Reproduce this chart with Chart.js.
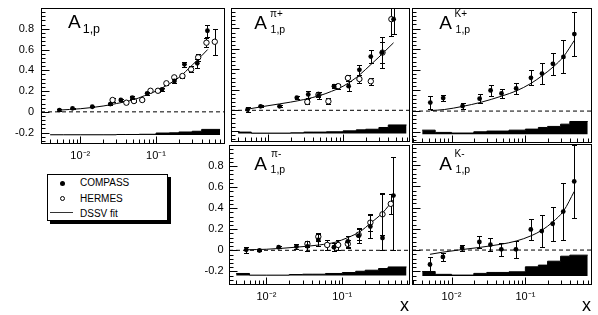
<!DOCTYPE html>
<html><head><meta charset="utf-8">
<script src="https://cdn.jsdelivr.net/npm/chart.js@4.4.1/dist/chart.umd.min.js"></script>
<style>
html,body{margin:0;padding:0;background:#fff;overflow:hidden;width:598px;height:315px;position:relative;font-family:"Liberation Sans",Arial,Helvetica,sans-serif;}
canvas{position:absolute;}
.lbl{position:absolute;line-height:1;white-space:nowrap;color:#000;}
#legend{position:absolute;left:47px;top:174px;width:121px;height:47px;box-sizing:border-box;border:1px solid #000;background:#fff;box-shadow:3px 3px 0 #000;}
#legend .t{position:absolute;font-size:10px;line-height:10px;left:32px;white-space:nowrap;}
#legend .dot{position:absolute;width:5px;height:5px;border-radius:50%;box-sizing:border-box;}
</style></head><body>
<div id="legend">
  <div class="dot" style="left:11.5px;top:5.5px;background:#000;"></div>
  <div class="t" style="top:3px;">COMPASS</div>
  <div class="dot" style="left:11.5px;top:21px;border:1px solid #000;background:#fff;"></div>
  <div class="t" style="top:18.5px;">HERMES</div>
  <div style="position:absolute;left:2px;top:37px;width:23px;height:1px;background:#333;"></div>
  <div class="t" style="top:33.5px;">DSSV fit</div>
</div>
<script>
// ---------------- DATA ----------------
const sysBinEdges = [0.004, 0.006, 0.01, 0.02, 0.03, 0.04, 0.06, 0.1, 0.15, 0.2, 0.3, 0.4, 0.7];
const xMajorTicks = [0.01, 0.1];
const xTickLabels = ['10\u207B\u00B2', '10\u207B\u00B9'];
const yMajorTicks = [-0.2, 0, 0.2, 0.4, 0.6, 0.8];
const yTickLabels = ['-0.2', '0', '0.2', '0.4', '0.6', '0.8'];
const yMinorStep = 0.04;

// A1,p
const a1pCompassX = [0.0053, 0.0079, 0.0144, 0.0249, 0.0343, 0.0486, 0.0764, 0.120, 0.175, 0.237, 0.350, 0.477];
const a1pCompassY = [0.017, 0.034, 0.049, 0.075, 0.114, 0.136, 0.178, 0.217, 0.297, 0.458, 0.467, 0.781];
const a1pCompassErr = [0.006, 0.006, 0.007, 0.01, 0.012, 0.012, 0.012, 0.014, 0.02, 0.025, 0.04, 0.056];
const a1pHermesX = [0.0267, 0.0406, 0.0511, 0.0657, 0.0845, 0.106, 0.137, 0.174, 0.223, 0.29, 0.36, 0.463, 0.596];
const a1pHermesY = [0.114, 0.088, 0.104, 0.114, 0.203, 0.203, 0.275, 0.332, 0.345, 0.409, 0.525, 0.666, 0.675];
const a1pHermesErr = [0.022, 0.012, 0.012, 0.012, 0.012, 0.013, 0.015, 0.018, 0.02, 0.03, 0.035, 0.045, 0.125];
const a1pFitX = [0.0052, 0.01, 0.02, 0.03, 0.05, 0.07, 0.1, 0.15, 0.2, 0.3, 0.4, 0.48];
const a1pFitY = [0.017, 0.03, 0.056, 0.08, 0.115, 0.155, 0.2, 0.27, 0.33, 0.45, 0.54, 0.6];
const a1pSys = [0.003, 0.003, 0.003, 0.003, 0.006, 0.006, 0.008, 0.02, 0.022, 0.03, 0.037, 0.055];
const a1pSysBase = -0.224;

// A1,p pi+
const pipCompassX = [0.00536, 0.00798, 0.01425, 0.0242, 0.0344, 0.0472, 0.0757, 0.1186, 0.165, 0.234, 0.332, 0.471];
const pipCompassY = [0.008, 0.039, 0.039, 0.123, 0.155, 0.145, 0.236, 0.236, 0.396, 0.525, 0.564, 0.891];
const pipCompassErr = [0.029, 0.01, 0.01, 0.015, 0.033, 0.03, 0.02, 0.05, 0.05, 0.065, 0.15, 0.15];
const pipHermesX = [0.0334, 0.047, 0.0638, 0.0861, 0.116, 0.165, 0.234, 0.335, 0.44];
const pipHermesY = [0.082, 0.152, 0.088, 0.236, 0.316, 0.306, 0.284, 0.564, 0.891];
const pipHermesErr = [0.025, 0.025, 0.03, 0.025, 0.03, 0.035, 0.035, 0.1, 0.16];
const pipFitX = [0.0054, 0.01, 0.02, 0.03, 0.05, 0.07, 0.1, 0.15, 0.2, 0.3, 0.47];
const pipFitY = [0.012, 0.045, 0.08, 0.105, 0.146, 0.185, 0.235, 0.32, 0.4, 0.52, 0.66];
const pipSys = [0.013, 0.003, 0.003, 0.006, 0.013, 0.013, 0.016, 0.025, 0.035, 0.041, 0.058, 0.083];
const pipSysBase = -0.226;

// A1,p K+
const kpCompassX = [0.00515, 0.0077, 0.0141, 0.024, 0.0338, 0.0475, 0.075, 0.119, 0.168, 0.236, 0.328, 0.461];
const kpCompassY = [0.082, 0.126, 0.049, 0.12, 0.2, 0.171, 0.22, 0.323, 0.364, 0.458, 0.525, 0.747];
const kpCompassErr = [0.063, 0.032, 0.025, 0.043, 0.052, 0.046, 0.056, 0.073, 0.1, 0.108, 0.16, 0.213];
const kpFitX = [0.0052, 0.008, 0.014, 0.025, 0.035, 0.05, 0.075, 0.12, 0.17, 0.24, 0.33, 0.46];
const kpFitY = [0.005, 0.015, 0.045, 0.085, 0.115, 0.15, 0.195, 0.27, 0.345, 0.43, 0.53, 0.685];
const kpSys = [0.041, 0.019, 0.013, 0.025, 0.032, 0.032, 0.041, 0.051, 0.067, 0.077, 0.099, 0.125];
const kpSysBase = -0.226;

// A1,p pi-
const pimCompassX = [0.00543, 0.0081, 0.0145, 0.0249, 0.0347, 0.0483, 0.0775, 0.118, 0.164, 0.234, 0.338, 0.471];
const pimCompassY = [0.005, -0.002, 0.029, 0.036, 0.038, 0.098, 0.029, 0.085, 0.139, 0.226, 0.117, 0.52];
const pimCompassErr = [0.028, 0.008, 0.01, 0.027, 0.047, 0.055, 0.036, 0.05, 0.072, 0.105, [0.117, 0.42], [0.52, 0.37]];
const pimHermesX = [0.0347, 0.0483, 0.0632, 0.0881, 0.118, 0.164, 0.234, 0.338, 0.4346];
const pimHermesY = [0.061, 0.129, 0.051, 0.051, 0.061, 0.148, 0.263, 0.342, 0.441];
const pimHermesErr = [0.03, 0.04, 0.045, 0.047, 0.04, 0.05, 0.08, 0.2, 0.095];
const pimFitX = [0.0054, 0.01, 0.025, 0.05, 0.08, 0.12, 0.17, 0.24, 0.34, 0.47];
const pimFitY = [0.005, 0.01, 0.03, 0.051, 0.076, 0.123, 0.176, 0.263, 0.357, 0.48];
const pimSys = [0.019, 0.003, 0.003, 0.009, 0.012, 0.012, 0.019, 0.028, 0.04, 0.05, 0.066, 0.081];
const pimSysBase = -0.239;

// A1,p K-
const kmCompassX = [0.0051, 0.00763, 0.0139, 0.0238, 0.0336, 0.0472, 0.0745, 0.1185, 0.1667, 0.2345, 0.326, 0.459];
const kmCompassY = [-0.136, -0.065, 0.02, 0.076, 0.051, 0.007, 0.007, 0.195, 0.179, 0.248, 0.363, 0.647];
const kmCompassErr = [0.075, 0.039, 0.031, 0.053, 0.064, 0.062, 0.078, 0.101, 0.151, 0.159, 0.265, 0.34];
const kmFitX = [0.0051, 0.0076, 0.014, 0.024, 0.034, 0.047, 0.075, 0.12, 0.17, 0.235, 0.33, 0.46];
const kmFitY = [-0.04, -0.02, 0.005, 0.025, 0.04, 0.055, 0.085, 0.135, 0.19, 0.265, 0.37, 0.553];
const kmSys = [0.043, 0.016, 0.009, 0.025, 0.034, 0.034, 0.04, 0.087, 0.103, 0.14, 0.187, 0.197];
const kmSysBase = -0.245;

// ---------------- HELPERS ----------------
const FONT = '"Liberation Sans", Arial, Helvetica, sans-serif';
const pts = (xs, ys) => xs.map((x, i) => ({x: x, y: ys[i]}));
const isMajorX = v => Math.abs(Math.log10(v) - Math.round(Math.log10(v))) < 1e-6;
const isMajorY = v => Math.abs(v / 0.2 - Math.round(v / 0.2)) < 1e-6;

function xTickValues(min, max) {
  const out = [];
  for (let d = -4; d <= 0; d++) for (let m = 1; m <= 9; m++) {
    const v = +(m * Math.pow(10, d)).toPrecision(6);
    if (v >= min && v <= max) out.push(v);
  }
  return out;
}
function yTickValues(min, max) {
  const out = [];
  for (let k = Math.ceil(min / yMinorStep - 1e-9); k * yMinorStep <= max + 1e-9; k++) out.push(+(k * yMinorStep).toFixed(4));
  return out;
}

const errorBarPlugin = {
  id: 'errbars',
  beforeDatasetDraw(chart, args) {
    const ds = chart.data.datasets[args.index];
    if (!ds.errors) return;
    const ctx = chart.ctx, ys = chart.scales.y, a = chart.chartArea, CAP = 2.5;
    ctx.save();
    ctx.beginPath(); ctx.rect(a.left, a.top, a.right - a.left, a.bottom - a.top); ctx.clip();
    ctx.strokeStyle = '#000'; ctx.lineWidth = 1;
    ds.data.forEach((p, i) => {
      const e = ds.errors[i];
      const lo = Array.isArray(e) ? e[0] : e, hi = Array.isArray(e) ? e[1] : e;
      const px = Math.round(args.meta.data[i].x) + 0.5;
      const y1 = Math.round(ys.getPixelForValue(p.y + hi)) + 0.5;
      const y2 = Math.round(ys.getPixelForValue(p.y - lo)) + 0.5;
      ctx.beginPath();
      ctx.moveTo(px, y1); ctx.lineTo(px, y2);
      ctx.moveTo(px - CAP, y1); ctx.lineTo(px + CAP, y1);
      ctx.moveTo(px - CAP, y2); ctx.lineTo(px + CAP, y2);
      ctx.stroke();
    });
    ctx.restore();
  }
};

const framePlugin = {
  id: 'rootFrame',
  afterDatasetsDraw(chart) {
    const ctx = chart.ctx, a = chart.chartArea, xs = chart.scales.x, ys = chart.scales.y;
    const L = Math.round(a.left) + 0.5, R = Math.round(a.right) + 0.5, T = Math.round(a.top) + 0.5, B = Math.round(a.bottom) + 0.5;
    ctx.save();
    ctx.strokeStyle = '#000'; ctx.lineWidth = 1;
    ctx.beginPath();
    xs.ticks.forEach(t => {
      const px = Math.round(xs.getPixelForValue(t.value)) + 0.5;
      const len = isMajorX(t.value) ? 7 : 4;
      ctx.moveTo(px, B); ctx.lineTo(px, B - len);
    });
    ys.ticks.forEach(t => {
      const py = Math.round(ys.getPixelForValue(t.value)) + 0.5;
      const len = isMajorY(t.value) ? 8 : 4;
      ctx.moveTo(L, py); ctx.lineTo(L + len, py);
    });
    ctx.stroke();
    ctx.strokeRect(L, T, R - L, B - T);
    ctx.restore();
  }
};

function compassSet(xs, ys, errs) {
  return {type: 'scatter', data: pts(xs, ys), errors: errs, pointStyle: 'circle', pointRadius: 2.4,
    pointBackgroundColor: '#000', pointBorderColor: '#000', pointBorderWidth: 0, showLine: false};
}
function hermesSet(xs, ys, errs) {
  return {type: 'scatter', data: pts(xs, ys), errors: errs, pointStyle: 'circle', pointRadius: 2.7,
    pointBackgroundColor: '#fff', pointBorderColor: '#000', pointBorderWidth: 1, showLine: false};
}
function fitSet(xs, ys) {
  return {type: 'line', data: pts(xs, ys), borderColor: '#000', borderWidth: 1, pointRadius: 0,
    cubicInterpolationMode: 'monotone', showLine: true, fill: false};
}
function zeroSet(xMin, xMax) {
  return {type: 'line', data: [{x: xMin, y: 0}, {x: xMax, y: 0}], borderColor: '#000', borderWidth: 1,
    borderDash: [4, 3], pointRadius: 0, showLine: true, fill: false};
}
function sysSet(heights, base) {
  const data = sysBinEdges.map((e, i) => ({x: e, y: base + heights[Math.min(i, heights.length - 1)]}));
  return {type: 'line', data: data, stepped: 'before', borderColor: '#000', borderWidth: 1, backgroundColor: '#000',
    fill: {value: base}, pointRadius: 0, showLine: true};
}

function makePanel(p) {
  const cv = document.createElement('canvas');
  const w = p.yw + p.pw + p.pr, h = p.pt + p.ph + p.xh;
  cv.width = w; cv.height = h;
  cv.style.left = p.left + 'px'; cv.style.top = p.top + 'px';
  cv.style.width = w + 'px'; cv.style.height = h + 'px';
  document.body.appendChild(cv);
  const ds = [];
  if (p.compass) ds.push(compassSet(p.compass[0], p.compass[1], p.compass[2]));
  if (p.hermes) ds.push(hermesSet(p.hermes[0], p.hermes[1], p.hermes[2]));
  ds.push(fitSet(p.fit[0], p.fit[1]));
  ds.push(zeroSet(p.xMin, p.xMax));
  ds.push(sysSet(p.sys[0], p.sys[1]));
  return new Chart(cv, {
    type: 'scatter',
    data: {datasets: ds},
    options: {
      responsive: false, animation: false, devicePixelRatio: 1, events: [],
      layout: {padding: {left: 0, top: p.pt, right: p.pr, bottom: 0}},
      plugins: {legend: {display: false}, tooltip: {enabled: false}, title: {display: false}},
      scales: {
        x: {
          type: 'logarithmic', position: 'bottom', min: p.xMin, max: p.xMax,
          grid: {display: false, drawTicks: false, tickLength: 0}, border: {display: false},
          afterBuildTicks: s => { s.ticks = xTickValues(p.xMin, p.xMax).map(v => ({value: v, major: isMajorX(v)})); },
          afterFit: s => { s.height = p.xh; s.paddingLeft = 0; s.paddingRight = 0; s.paddingTop = 0; s.paddingBottom = 0; },
          ticks: {display: p.xLabels, autoSkip: false, maxRotation: 0, minRotation: 0, padding: 6, color: '#000',
            font: {family: FONT, size: 11},
            callback: v => { const i = xMajorTicks.findIndex(m => Math.abs(m - v) < 1e-9); return i >= 0 ? xTickLabels[i] : ''; }},
          title: {display: !!p.title, text: p.title || '', align: 'end', color: '#000', padding: 0,
            font: {family: FONT, size: 18, lineHeight: 1}}
        },
        y: {
          type: 'linear', position: 'left', min: p.yMin, max: p.yMax,
          grid: {display: false, drawTicks: false, tickLength: 0}, border: {display: false},
          afterBuildTicks: s => { s.ticks = yTickValues(p.yMin, p.yMax).map(v => ({value: v})); },
          afterFit: s => { s.width = p.yw; s.paddingLeft = 0; s.paddingRight = 0; s.paddingTop = 0; s.paddingBottom = 0; },
          ticks: {display: p.yLabels, autoSkip: false, padding: p.yPad || 7, color: '#000',
            font: {family: FONT, size: 11},
            callback: v => { const i = yMajorTicks.findIndex(m => Math.abs(m - v) < 1e-6); return i >= 0 ? yTickLabels[i] : ''; }}
        }
      }
    },
    plugins: [errorBarPlugin, framePlugin]
  });
}

// ---------------- PANELS ----------------
makePanel({left: 0, top: 0, yw: 41, pt: 8, pw: 185, ph: 135, pr: 3, xh: 25,
  xMin: 0.00303, xMax: 0.789, yMin: -0.3, yMax: 1.0, xLabels: true, yLabels: true, yPad: 7,
  compass: [a1pCompassX, a1pCompassY, a1pCompassErr], hermes: [a1pHermesX, a1pHermesY, a1pHermesErr],
  fit: [a1pFitX, a1pFitY], sys: [a1pSys, a1pSysBase]});
makePanel({left: 226, top: 0, yw: 3, pt: 8, pw: 182, ph: 135, pr: 3, xh: 3,
  xMin: 0.00322, xMax: 0.755, yMin: -0.3, yMax: 1.0, xLabels: false, yLabels: false,
  compass: [pipCompassX, pipCompassY, pipCompassErr], hermes: [pipHermesX, pipHermesY, pipHermesErr],
  fit: [pipFitX, pipFitY], sys: [pipSys, pipSysBase]});
makePanel({left: 408, top: 0, yw: 3, pt: 8, pw: 180, ph: 135, pr: 4, xh: 3,
  xMin: 0.00291, xMax: 0.775, yMin: -0.3, yMax: 1.0, xLabels: false, yLabels: false,
  compass: [kpCompassX, kpCompassY, kpCompassErr],
  fit: [kpFitX, kpFitY], sys: [kpSys, kpSysBase]});
makePanel({left: 189, top: 140, yw: 40, pt: 3, pw: 182, ph: 141, pr: 3, xh: 31,
  xMin: 0.00322, xMax: 0.755, yMin: -0.32, yMax: 1.0, xLabels: true, yLabels: true, yPad: 5.5, title: 'x',
  compass: [pimCompassX, pimCompassY, pimCompassErr], hermes: [pimHermesX, pimHermesY, pimHermesErr],
  fit: [pimFitX, pimFitY], sys: [pimSys, pimSysBase]});
makePanel({left: 408, top: 140, yw: 3, pt: 3, pw: 180, ph: 141, pr: 5, xh: 31,
  xMin: 0.00291, xMax: 0.775, yMin: -0.32, yMax: 1.0, xLabels: true, yLabels: false, title: 'x',
  compass: [kmCompassX, kmCompassY, kmCompassErr],
  fit: [kmFitX, kmFitY], sys: [kmSys, kmSysBase]});

// ---------------- PANEL LABELS (text) ----------------
function label(text, left, baseline, size) {
  const d = document.createElement('div');
  d.className = 'lbl';
  d.textContent = text;
  d.style.fontSize = size + 'px';
  d.style.left = left + 'px';
  d.style.top = (baseline - 0.8465 * size) + 'px';
  document.body.appendChild(d);
}
label('A', 68, 28.3, 19);   label('1,p', 82.7, 33.3, 12.5);
label('A', 254.3, 29.3, 19); label('\u03C0+', 270, 17.5, 10); label('1,p', 270.6, 33.3, 10.5);
label('A', 439.3, 29.3, 19); label('K+', 454.5, 17.5, 10); label('1,p', 455.6, 33.3, 10.5);
label('A', 254.3, 170, 19); label('\u03C0-', 271, 157, 10); label('1,p', 270.6, 172.5, 10.5);
label('A', 439.3, 170, 19); label('K-', 454.5, 157, 10); label('1,p', 455.6, 172.5, 10.5);
</script>
</body></html>
